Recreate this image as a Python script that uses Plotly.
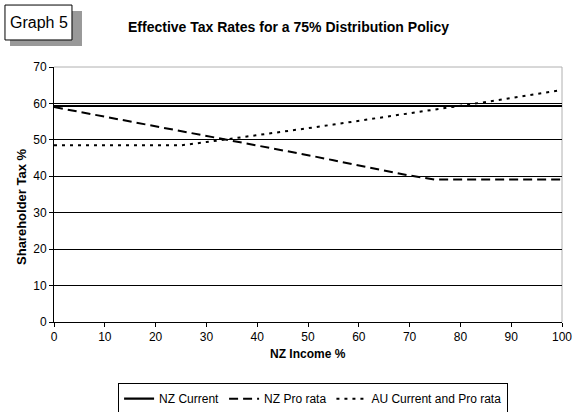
import plotly.graph_objects as go

nz_income = [0, 5, 10, 15, 20, 25, 30, 35, 40, 45, 50, 55, 60, 65, 70, 75, 80, 85, 90, 95, 100]
nz_current = [59.3] * 21
nz_pro_rata = [59.0, 57.7, 56.4, 55.1, 53.8, 52.5, 51.2, 49.9, 48.6, 47.2, 45.8,
               44.4, 43.0, 41.6, 40.2, 39.1, 39.1, 39.1, 39.1, 39.1, 39.1]
au_current_pro_rata = [48.5, 48.5, 48.5, 48.5, 48.5, 48.5, 49.4, 50.3, 51.3, 52.2, 53.2,
                       54.2, 55.2, 56.2, 57.2, 58.3, 59.3, 60.4, 61.5, 62.6, 63.7]
x_ticks = list(range(0, 101, 10))
y_ticks = list(range(0, 71, 10))

FONT = "Liberation Sans, Arial, sans-serif"

fig = go.Figure()
fig.add_trace(go.Scatter(x=nz_income, y=nz_current, name="NZ Current", mode="lines",
                         line=dict(color="black", width=2.2)))
fig.add_trace(go.Scatter(x=nz_income, y=nz_pro_rata, name="NZ Pro rata", mode="lines",
                         line=dict(color="black", width=2, dash="9px,5px")))
fig.add_trace(go.Scatter(x=nz_income, y=au_current_pro_rata, name="AU Current and Pro rata", mode="lines",
                         line=dict(color="black", width=2, dash="3px,5px")))

fig.update_layout(
    width=582, height=412,
    paper_bgcolor="white", plot_bgcolor="white",
    margin=dict(l=54, r=20, t=67, b=90, autoexpand=False),
    font=dict(family=FONT, size=12, color="black"),
    showlegend=True,
    legend=dict(orientation="h", x=0.51, xref="paper", xanchor="center",
                y=-0.24, yanchor="top", bordercolor="black", borderwidth=1,
                font=dict(size=12), itemwidth=30, tracegroupgap=0, bgcolor="white"),
    xaxis=dict(range=[0, 100], tickvals=x_ticks, showgrid=False, zeroline=False,
               showline=True, linecolor="black", linewidth=1, ticks="outside",
               ticklen=4, tickcolor="black", automargin=False),
    yaxis=dict(range=[0, 70], tickvals=y_ticks, showgrid=True, gridcolor="black", gridwidth=1,
               zeroline=False, showline=True, linecolor="black", linewidth=1,
               ticks="outside", ticklen=4, tickcolor="black", automargin=False),
    shapes=[
        dict(type="line", xref="paper", yref="paper", x0=0, x1=1, y0=1, y1=1,
             line=dict(color="#b0b0b0", width=1), layer="below"),
        dict(type="line", xref="paper", yref="paper", x0=1, x1=1, y0=0, y1=1,
             line=dict(color="#b0b0b0", width=1), layer="below"),
        # Graph 5 label box shadow and box
        dict(type="rect", xref="paper", yref="paper",
             x0=-0.0866, x1=0.0551, y0=1.082, y1=1.220,
             fillcolor="#999999", line=dict(width=0), layer="above"),
        dict(type="rect", xref="paper", yref="paper",
             x0=-0.0965, x1=0.0354, y0=1.106, y1=1.243,
             fillcolor="white", line=dict(color="black", width=1), layer="above"),
    ],
    annotations=[
        dict(text="Graph 5", xref="paper", yref="paper", x=-0.0305, y=1.174,
             xanchor="center", yanchor="middle", showarrow=False,
             font=dict(size=16, family=FONT)),
        dict(text="<b>Effective Tax Rates for a 75% Distribution Policy</b>", xref="paper", yref="paper",
             x=0.1417, y=1.157, xanchor="left", yanchor="middle", showarrow=False,
             font=dict(size=14, family=FONT)),
        dict(text="<b>NZ Income %</b>", xref="paper", yref="paper", x=0.5, y=-0.125,
             xanchor="center", yanchor="middle", showarrow=False,
             font=dict(size=12, family=FONT)),
        dict(text="<b>Shareholder Tax %</b>", xref="paper", yref="paper", x=-0.063, y=0.455,
             xanchor="center", yanchor="middle", showarrow=False, textangle=-90,
             font=dict(size=13, family=FONT)),
    ],
)

fig.write_html("out.html", config={"displayModeBar": False},
               post_script="document.body.style.margin='0';document.body.style.overflow='hidden';")
